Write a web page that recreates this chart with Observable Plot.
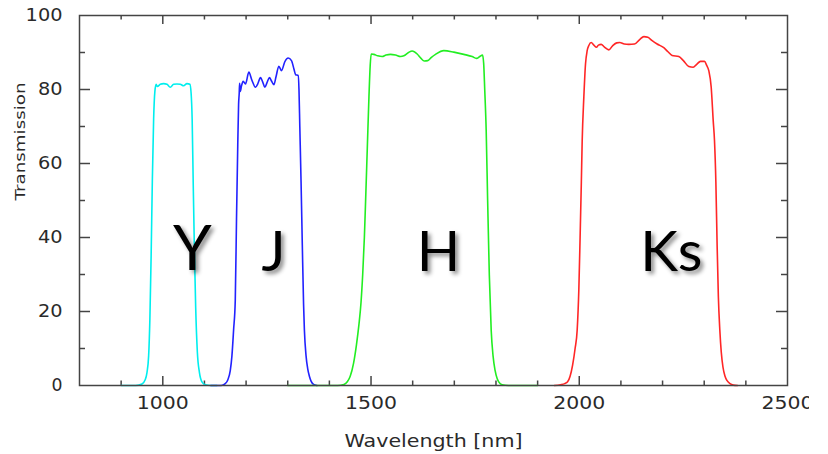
<!DOCTYPE html>
<html>
<head>
<meta charset="utf-8">
<script src="https://cdn.jsdelivr.net/npm/d3@7"></script>
<script src="https://cdn.jsdelivr.net/npm/@observablehq/plot@0.6"></script>
<style>
  html, body { margin: 0; padding: 0; background: #fff; }
  #chart { width: 828px; height: 454px; background: #fff; }
  #chart svg { display: block; }
  g[aria-description="band name"] text { filter: drop-shadow(3px 3px 2px rgba(0,0,0,0.45)); }
</style>
</head>
<body>
<div id="chart"></div>
<script>
// Filter transmission curves: [wavelength (nm), transmission (%)]
const bandY = [
  [900, 0], [935, 0], [950, 0.4], [958, 1.6], [962, 3.5], [966, 8], [969, 18], [972, 35],
  [975, 56], [978, 72], [981, 79.5], [984, 81.4], [987, 80.8], [994, 81.4], [1002, 81.6],
  [1010, 81.4], [1018, 80.6], [1026, 81.4], [1034, 81.5], [1042, 81.4], [1050, 81.0],
  [1058, 81.6], [1065, 81.4], [1068, 79], [1070.5, 72], [1073, 55], [1076, 36], [1079, 21],
  [1083, 9], [1088, 3.5], [1094, 1], [1102, 0.2], [1115, 0], [1130, 0]
];

const bandJ = [
  [1115, 0], [1140, 0], [1150, 0.5], [1156, 1.5], [1162, 4], [1166, 8], [1170, 15],
  [1174, 23], [1177, 45], [1180, 65], [1182, 76], [1183.5, 79], [1184.5, 81.7], [1186, 79.5],
  [1189, 81], [1193, 82.2], [1198.6, 81.5], [1206.6, 84.7], [1214, 82.5], [1222.6, 80.6],
  [1228, 81.5], [1234.6, 83.2], [1240, 82], [1245, 80.6], [1250, 81.8], [1256, 83.2],
  [1261, 82.3], [1266.6, 81.3], [1272, 83.5], [1278.6, 86.3], [1285, 85.1], [1293, 87.5],
  [1301, 88.5], [1309, 87.8], [1315, 85.5], [1319, 84], [1325, 83.8], [1327, 80],
  [1329, 70], [1332, 55], [1335, 38], [1338, 22], [1340, 15], [1344, 8], [1348, 4.5],
  [1352, 2.5], [1356, 1.2], [1362, 0.3], [1370, 0]
];

const bandH = [
  [1300, 0], [1420, 0], [1435, 0.3], [1443, 1], [1450, 2.5], [1458, 6], [1465, 11],
  [1471, 16.5], [1476, 22.5], [1480, 30], [1484, 40], [1487, 50], [1491, 64], [1495, 78],
  [1498, 86.5], [1500.4, 89.6], [1506.7, 89.5], [1516, 89.1], [1526.8, 88.9], [1536, 89.3],
  [1546.7, 89.5], [1558.8, 89.3], [1570.8, 88.9], [1578.8, 89.1], [1590, 90], [1598.8, 90.4],
  [1610.8, 89.6], [1620, 88.4], [1628, 87.7], [1636, 87.8], [1645, 88.7], [1654.8, 89.5],
  [1674.8, 90.5], [1698.8, 90.1], [1722.8, 89.5], [1742.9, 88.9], [1753.2, 88.4],
  [1761.2, 88.9], [1767.7, 89.3], [1770.5, 87], [1773, 80], [1776.5, 69], [1780, 50],
  [1784, 30], [1788.5, 15], [1793, 8], [1798, 4], [1803, 1.8], [1807, 0.9], [1815, 0.2],
  [1830, 0], [1900, 0]
];

const bandKs = [
  [1940, 0], [1955, 0.2], [1965, 0.5], [1972, 1], [1978, 2.5], [1984, 5.5], [1990, 10],
  [1995, 15], [1999, 26], [2002, 40], [2005, 55], [2007, 66], [2011, 78], [2015, 86.9],
  [2019, 90.5], [2023, 91.9], [2028.6, 92.7], [2035, 92], [2041.4, 91.4], [2046, 92],
  [2052.6, 92.2], [2060, 91.5], [2070.9, 90.7], [2080, 91.8], [2090, 92.6], [2097.3, 92.7],
  [2108, 92.3], [2118.9, 92.2], [2132.6, 92.3], [2145, 93.5], [2155, 94.3], [2164.6, 94.1],
  [2175, 93.2], [2187, 92.3], [2203, 91.3], [2213, 90.2], [2223, 89.2], [2239, 88.9],
  [2250, 87.8], [2263, 86.2], [2273.5, 86], [2282, 86.8], [2291, 87.6], [2300.7, 87.6],
  [2306, 86.5], [2311, 85.1], [2316.8, 80.6], [2321.6, 71.6], [2324.7, 66.2], [2328, 55],
  [2331, 38], [2334, 24], [2337.5, 15], [2341, 9], [2345, 5], [2350, 2.5], [2355, 1.3],
  [2362, 0.5], [2370, 0.1], [2380, 0]
];

// Band names, their placement and type size
const bandNames = ["Y", "J", "H", "Ks"];
const bandLabelX = [1071, 1266, 1662, 2221];
const bandLabelY = [36.5, 36, 36, 36];
const bandLabelSize = [62, 57, 57, 57];

// Axis ticks and labels
const xTickLabels = [1000, 1500, 2000, 2500];
const xMajorTicks = [1000, 1500, 2000];
const xMinorTicks = [900, 1100, 1200, 1300, 1400, 1600, 1700, 1800, 1900, 2100, 2200, 2300, 2400];
const yTickLabels = [0, 20, 40, 60, 80, 100];
const yMajorTicks = [20, 40, 60, 80];
const yMinorTicks = [10, 30, 50, 70, 90];
const xTitle = "Wavelength [nm]";
const yTitle = "Transmission";

// The SVG stops just short of the last tick label, so its final digit is cut off
const W = 809, H = 454;
const mL = 79, mR = W - 787, mT = 15, mB = H - 385;
const frameW = W - mL - mR, frameH = H - mT - mB;
const axisColor = "#444";
const textColor = "#2a2a2a";
const tickFont = "DejaVu Sans";

const curve = (data, color) =>
  Plot.line(data, {x: d => d[0], y: d => d[1], stroke: color, strokeWidth: 1.6, curve: "monotone-x"});

const tick = (Mark, values, key, inset) =>
  Mark(values, {[key[0]]: d => d, stroke: axisColor, strokeWidth: 1.5, ...inset});

const chart = Plot.plot({
  width: W,
  height: H,
  marginLeft: mL,
  marginRight: mR,
  marginTop: mT,
  marginBottom: mB,
  x: {domain: [800, 2500], axis: null},
  y: {domain: [0, 100], axis: null},
  style: {background: "white", fontFamily: tickFont, color: textColor},
  marks: [
    // inward ticks on all four sides of the box
    tick(Plot.tickX, xMajorTicks, "x", {insetTop: frameH - 9}),
    tick(Plot.tickX, xMinorTicks, "x", {insetTop: frameH - 4.5}),
    tick(Plot.tickX, xMajorTicks, "x", {insetBottom: frameH - 9}),
    tick(Plot.tickX, xMinorTicks, "x", {insetBottom: frameH - 4.5}),
    tick(Plot.tickY, yMajorTicks, "y", {insetRight: frameW - 11}),
    tick(Plot.tickY, yMinorTicks, "y", {insetRight: frameW - 6}),
    tick(Plot.tickY, yMajorTicks, "y", {insetLeft: frameW - 11}),
    tick(Plot.tickY, yMinorTicks, "y", {insetLeft: frameW - 6}),

    curve(bandY, "#00eeee"),
    curve(bandJ, "#2222ff"),
    curve(bandH, "#22ee22"),
    curve(bandKs, "#ff2626"),

    Plot.frame({stroke: axisColor, strokeWidth: 1.5}),

    Plot.text(xTickLabels, {
      x: d => d, y: 0, dy: 18, text: d => String(d), lineAnchor: "middle",
      fontSize: 17.5, fill: textColor, ariaDescription: "x tick label"
    }),
    Plot.text(yTickLabels, {
      x: 800, y: d => d, dx: -17, text: d => String(d), textAnchor: "end", lineAnchor: "middle",
      fontSize: 17.5, fill: textColor, ariaDescription: "y tick label"
    }),
    Plot.text([xTitle], {
      frameAnchor: "bottom", dy: 56, lineAnchor: "middle",
      fontSize: 17.5, fill: textColor, ariaDescription: "x label"
    }),
    Plot.text([yTitle], {
      frameAnchor: "left", dx: -58.5, rotate: -90, lineAnchor: "middle",
      fontSize: 14, fill: textColor, ariaDescription: "y label"
    }),

    Plot.text(bandNames, {
      x: (d, i) => bandLabelX[i], y: (d, i) => bandLabelY[i], text: d => d,
      fontSize: (d, i) => bandLabelSize[i],
      lineAnchor: "middle", fontFamily: "Lato", fill: "#000",
      ariaDescription: "band name"
    })
  ]
});

// The axis lettering is set in a wide face: stretch each label to its run width
const svg = d3.select(chart);
const stretch = (desc, width) =>
  svg.selectAll(`g[aria-description="${desc}"] text`)
    .attr("textLength", function () { return width(this.textContent); })
    .attr("lengthAdjust", "spacingAndGlyphs");
stretch("x tick label", s => s.length * 13);
stretch("y tick label", s => s.length === 1 ? 11 : s.length * 12.3);
stretch("x label", () => 178);
stretch("y label", () => 118);

document.getElementById("chart").appendChild(chart);
</script>
</body>
</html>
